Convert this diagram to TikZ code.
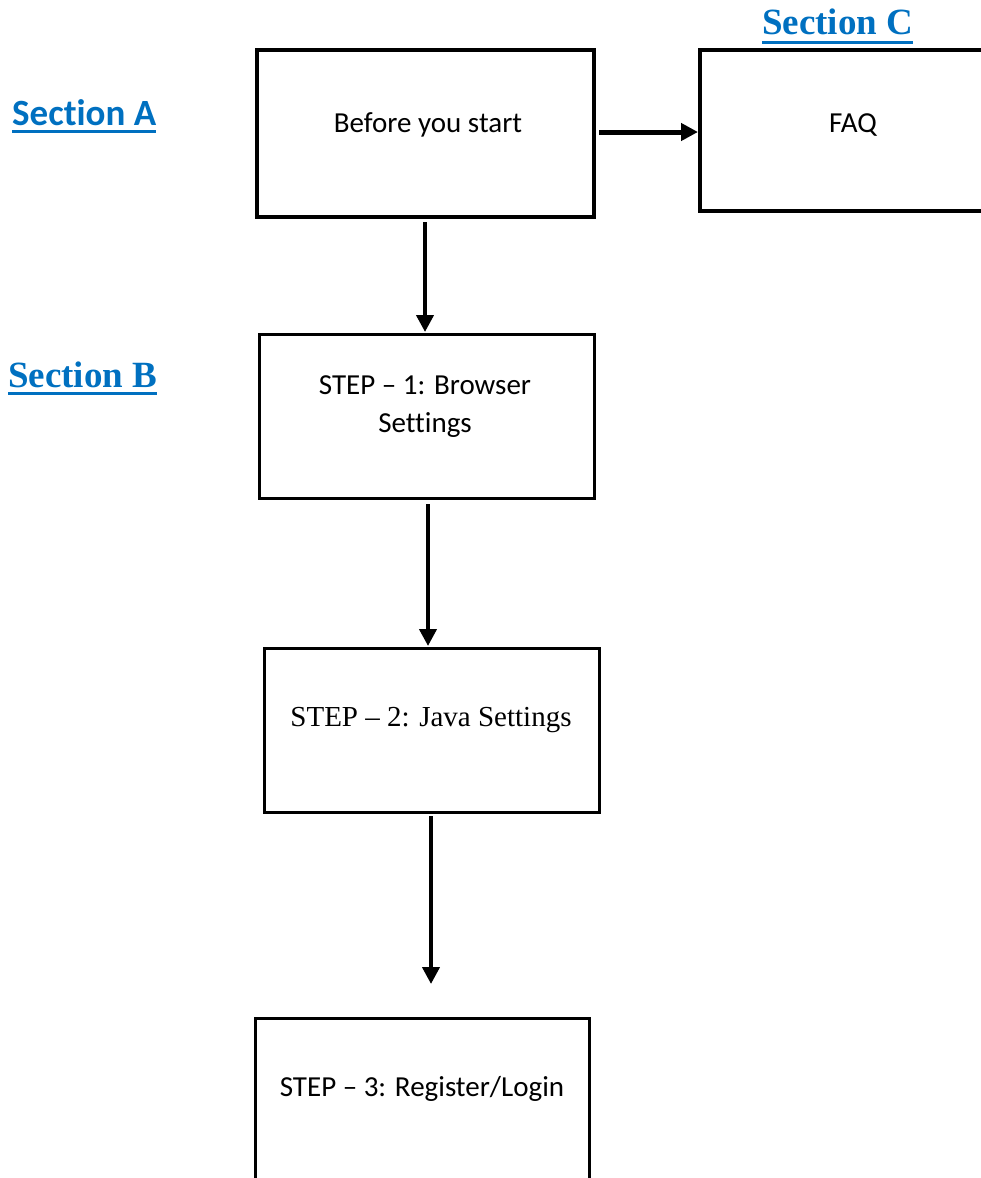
\documentclass[tikz,border=0pt]{standalone}
\usepackage{fontspec}
\setmainfont{Carlito}[Ligatures=NoCommon]
\newfontfamily\timesfont{Liberation Serif}
\usetikzlibrary{arrows.meta}
\definecolor{secblue}{HTML}{0070C0}
\tikzset{
  box/.style={draw=black, line width=3.6pt, inner sep=0pt},
  stepbox/.style={draw=black, line width=3pt, inner sep=0pt},
  txt/.style={inner sep=0pt, align=center, font=\fontsize{29}{38}\selectfont},
  seclabel/.style={inner sep=0pt, anchor=base west, text=secblue},
  secline/.style={draw=secblue, line width=3pt},
  flow/.style={line width=4pt, -{Triangle[length=17pt,width=17pt]}},
}
\begin{document}
\begin{tikzpicture}[x=1pt,y=-1pt]
\useasboundingbox (0,0) rectangle (980,1178);
% boxes
\node[box, minimum width=337pt, minimum height=167pt] (a) at (425.5,133.5) {};
\node[box, minimum width=306pt, minimum height=161pt] (faq) at (853,130.5) {};
\node[stepbox, minimum width=335pt, minimum height=164pt] (s1) at (426.5,416) {};
\node[stepbox, minimum width=335pt, minimum height=164pt] (s2) at (431.5,730) {};
\node[stepbox, minimum width=334pt, minimum height=200pt] (s3) at (422,1118) {};
% texts
\node[txt] (ta) at (428,125) {Before you start};
\node[txt] (tfaq) at (853,125) {FAQ};
\node[txt] (ts1) at (425,407) {STEP – 1: Browser\\Settings};
\node[txt, font=\timesfont\fontsize{29}{36}\selectfont] (ts2) at (431,720) {STEP – 2: Java Settings};
\node[txt] (ts3) at (422,1089) {STEP – 3: Register/Login};
% section labels
\node[seclabel, font=\bfseries\fontsize{37}{44}\selectfont] (seca) at (12,125) {Section A};
\node[seclabel, font=\timesfont\bfseries\fontsize{37}{44}\selectfont] (secb) at (8,387) {Section B};
\node[seclabel, font=\timesfont\bfseries\fontsize{37}{44}\selectfont] (secc) at (762,34) {Section C};
\draw[secline] ([yshift=-6pt]seca.base west) -- ([yshift=-6pt]seca.base east);
\draw[secline] ([yshift=-6pt]secb.base west) -- ([yshift=-6pt]secb.base east);
\draw[secline] ([yshift=-8pt]secc.base west) -- ([yshift=-8pt]secc.base east);
% connectors
\coordinate (h1) at (599,132);
\coordinate (h2) at (698,132);
\draw[flow, line width=5pt] (h1) -- (h2);
\coordinate (v1a) at (425,222);
\coordinate (v1b) at (425,332);
\draw[flow] (v1a) -- (v1b);
\coordinate (v2a) at (428,504);
\coordinate (v2b) at (428,646);
\draw[flow] (v2a) -- (v2b);
\coordinate (v3a) at (431,816);
\coordinate (v3b) at (431,984);
\draw[flow] (v3a) -- (v3b);
\end{tikzpicture}
\end{document}
